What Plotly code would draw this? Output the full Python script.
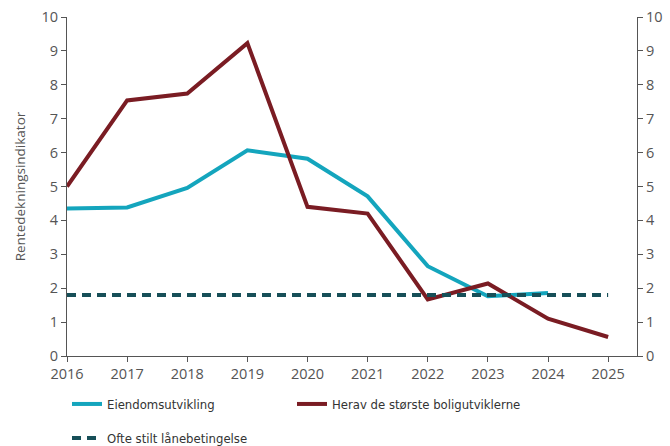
import plotly.graph_objects as go

years = [2016, 2017, 2018, 2019, 2020, 2021, 2022, 2023, 2024, 2025]
eiendom = [4.35, 4.38, 4.96, 6.07, 5.82, 4.71, 2.65, 1.76, 1.86]
storste = [5.0, 7.54, 7.74, 9.23, 4.40, 4.20, 1.67, 2.14, 1.10, 0.56]
betingelse = [1.8] * 10

names = ["Eiendomsutvikling", "Herav de største boligutviklerne", "Ofte stilt lånebetingelse"]
colors = ["#14a5bd", "#7a1c23", "#174f58"]

font_fam = "Open Sans, sans-serif"
leg_fam = "DejaVu Sans Condensed, Open Sans, sans-serif"
gray = "#555555"

fig = go.Figure()
fig.add_trace(go.Scatter(x=years[:len(eiendom)], y=eiendom, mode="lines", name=names[0],
                         line=dict(color=colors[0], width=4), legend="legend", showlegend=True))
fig.add_trace(go.Scatter(x=years, y=storste, mode="lines", name=names[1],
                         line=dict(color=colors[1], width=4), legend="legend2", showlegend=True))
fig.add_trace(go.Scatter(x=years, y=betingelse, mode="lines", name=names[2], yaxis="y2",
                         line=dict(color=colors[2], width=4, dash="9px,6px"), legend="legend3",
                         showlegend=True))

axis_common = dict(showgrid=False, zeroline=False, showline=True, linecolor="#555555", linewidth=1,
                   ticks="outside", ticklen=5, tickcolor="#555555", automargin=False,
                   tickfont=dict(family=font_fam, size=14.5, color=gray))

leg_common = dict(orientation="h", xanchor="left", yanchor="middle",
                  xref="container", yref="container",
                  font=dict(family=leg_fam, size=13, color="#333333"),
                  bgcolor="rgba(0,0,0,0)")

W, H = 670, 446
fig.update_layout(
    width=W, height=H,
    showlegend=True,
    margin=dict(l=67, r=33, t=17, b=90, autoexpand=False),
    plot_bgcolor="white", paper_bgcolor="white",
    font=dict(family=font_fam, color=gray),
    xaxis=dict(**axis_common, range=[2016, 2025.48], tickmode="array", tickvals=years,
               ticktext=[str(y) for y in years]),
    yaxis=dict(**axis_common, range=[0, 10], dtick=1,
               title=dict(text="Rentedekningsindikator", font=dict(family=font_fam, size=13.5, color=gray), standoff=12)),
    yaxis2=dict(**axis_common, range=[0, 10], dtick=1, overlaying="y", side="right"),
    legend=dict(**leg_common, x=67 / W, y=1 - 404 / H),
    legend2=dict(**leg_common, x=292 / W, y=1 - 404 / H),
    legend3=dict(**leg_common, x=67 / W, y=1 - 438 / H),
)

fig.write_html("out.html", config={"displayModeBar": False},
               post_script="document.body.style.margin='0';document.body.style.overflow='hidden';")
